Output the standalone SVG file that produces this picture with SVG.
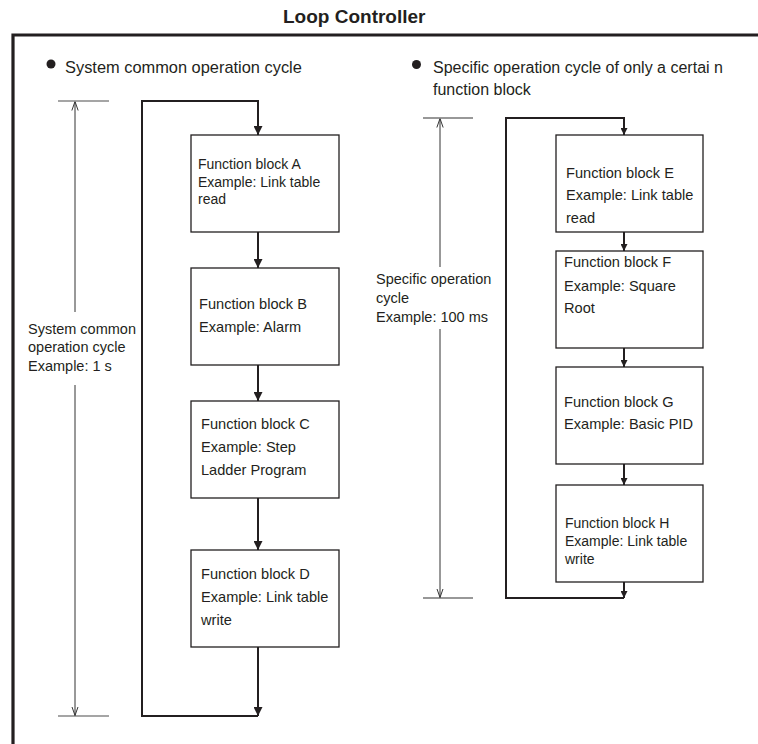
<svg xmlns="http://www.w3.org/2000/svg" width="758" height="744" viewBox="0 0 758 744">
<style>
text{font-family:"Liberation Sans",Arial,Helvetica,sans-serif;fill:#231f20}
.title{font-size:19px;font-weight:bold}
.head{font-size:16px}
.headl{font-size:16.4px}
.lbl{font-size:14.5px}
.bt{font-size:14.6px}
.bs{font-size:14px}
.box{fill:#fff;stroke:#231f20;stroke-width:1.3}
.loop{fill:none;stroke:#231f20;stroke-width:2}
.dim{fill:none;stroke:#333;stroke-width:1}
.tick{fill:none;stroke:#888;stroke-width:1.5}
.tickd{fill:none;stroke:#333;stroke-width:1.2}
.frame{fill:none;stroke:#231f20;stroke-width:3.2}
</style>
<defs>
<marker id="ah" viewBox="0 0 10 10" refX="10" refY="5" markerWidth="9" markerHeight="9" markerUnits="userSpaceOnUse" orient="auto">
<path d="M0,0 L10,5 L0,10 Z" fill="#231f20"/>
</marker>
<marker id="ahs" viewBox="0 0 10 10" refX="10" refY="5" markerWidth="7" markerHeight="7" markerUnits="userSpaceOnUse" orient="auto">
<path d="M0,0 L10,5 L0,10 Z" fill="#231f20"/>
</marker>
<marker id="open" viewBox="0 0 10 10" refX="10" refY="5" markerWidth="9" markerHeight="9" markerUnits="userSpaceOnUse" orient="auto">
<path d="M0,1.5 L10,5 L0,8.5" fill="none" stroke="#333" stroke-width="1.1"/>
</marker>
</defs>

<text class="title" x="283" y="23">Loop Controller</text>
<path class="frame" d="M13,744 V35 H758"/>

<g id="heading-left">
<circle cx="51" cy="64" r="4.5" fill="#231f20"/>
<text class="headl" x="65" y="73">System common operation cycle</text>
</g>
<g id="heading-right">
<circle cx="416.5" cy="64.5" r="4.5" fill="#231f20"/>
<text class="head" x="433" y="73">Specific operation cycle of only a certai n</text>
<text class="head" x="433" y="95">function block</text>
</g>

<g id="dim-left">
<path class="tick" d="M58,101 H109 M58,716 H109"/>
<path class="dim" d="M75,312 V101.5" marker-end="url(#open)"/>
<path class="dim" d="M75,385 V715.5" marker-end="url(#open)"/>
<text class="lbl" x="28" y="334">System common</text>
<text class="lbl" x="28" y="352">operation cycle</text>
<text class="lbl" x="28" y="371">Example: 1 s</text>
</g>
<g id="dim-right">
<path class="tickd" d="M423,118 H473 M423,598 H473"/>
<path class="dim" d="M440,267 V118.5" marker-end="url(#open)"/>
<path class="dim" d="M440,329 V597.5" marker-end="url(#open)"/>
<text class="lbl" x="376" y="284">Specific operation</text>
<text class="lbl" x="376" y="303">cycle</text>
<text class="lbl" x="376" y="322">Example: 100 ms</text>
</g>

<g id="connectors">
<path class="loop" d="M258,716 H142 V101 H258 V135" marker-end="url(#ah)"/>
<path class="loop" d="M258,232 V268" marker-end="url(#ah)"/>
<path class="loop" d="M258,365 V401" marker-end="url(#ah)"/>
<path class="loop" d="M258,498 V550" marker-end="url(#ah)"/>
<path class="loop" d="M258,647 V716" marker-end="url(#ah)"/>
<path class="loop" d="M624,598 H506 V118 H624 V135" marker-end="url(#ahs)"/>
<path class="loop" d="M624,232 V251" marker-end="url(#ahs)"/>
<path class="loop" d="M624,348 V367" marker-end="url(#ahs)"/>
<path class="loop" d="M624,464 V485" marker-end="url(#ahs)"/>
<path class="loop" d="M624,582 V598" marker-end="url(#ahs)"/>
</g>

<g id="block-a">
<rect class="box" x="191" y="135" width="148" height="97"/>
<text class="bs" x="198" y="169">Function block A</text>
<text class="bs" x="198" y="187">Example: Link table</text>
<text class="bs" x="198" y="204">read</text>
</g>
<g id="block-b">
<rect class="box" x="191" y="268" width="148" height="97"/>
<text class="bt" x="199" y="309">Function block B</text>
<text class="bt" x="199" y="332">Example: Alarm</text>
</g>
<g id="block-c">
<rect class="box" x="191" y="401" width="148" height="97"/>
<text class="bt" x="201" y="429">Function block C</text>
<text class="bt" x="201" y="452">Example: Step</text>
<text class="bt" x="201" y="475">Ladder Program</text>
</g>
<g id="block-d">
<rect class="box" x="191" y="550" width="148" height="97"/>
<text class="bt" x="201" y="579">Function block D</text>
<text class="bt" x="201" y="602">Example: Link table</text>
<text class="bt" x="201" y="625">write</text>
</g>

<g id="block-e">
<rect class="box" x="556" y="135" width="147" height="97"/>
<text class="bt" x="566" y="178">Function block E</text>
<text class="bt" x="566" y="200">Example: Link table</text>
<text class="bt" x="566" y="223">read</text>
</g>
<g id="block-f">
<rect class="box" x="556" y="251" width="147" height="97"/>
<text class="bt" x="564" y="267">Function block F</text>
<text class="bt" x="564" y="291">Example: Square</text>
<text class="bt" x="564" y="313">Root</text>
</g>
<g id="block-g">
<rect class="box" x="556" y="367" width="147" height="97"/>
<text class="bt" x="564" y="407">Function block G</text>
<text class="bt" x="564" y="429">Example: Basic PID</text>
</g>
<g id="block-h">
<rect class="box" x="556" y="485" width="147" height="97"/>
<text class="bs" x="565" y="528">Function block H</text>
<text class="bs" x="565" y="546">Example: Link table</text>
<text class="bs" x="565" y="564">write</text>
</g>
</svg>
